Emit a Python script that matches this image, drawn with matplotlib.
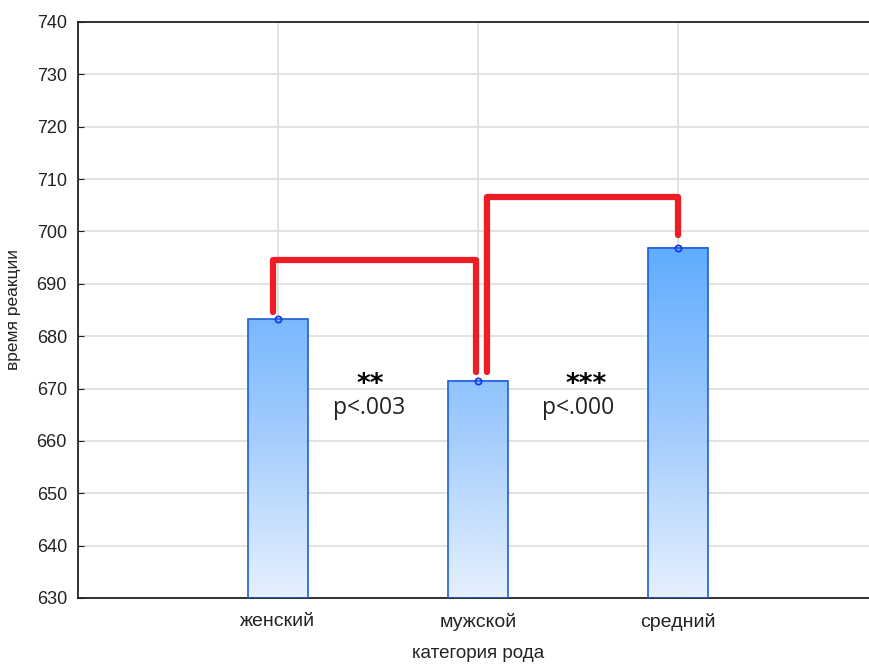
import numpy as np
import matplotlib.pyplot as plt
from matplotlib.colors import LinearSegmentedColormap

categories = ["женский", "мужской", "средний"]
means = [683.2, 671.5, 696.9]
stars = ["**", "***"]
pvals = ["p<.003", "p<.000"]

plt.rcParams['font.family'] = ['Liberation Sans', 'DejaVu Sans']

fig = plt.figure(figsize=(8.69, 6.64), dpi=100)
ax = fig.add_axes([78 / 869, 66 / 664, 800 / 869, 576 / 664])

ymin, ymax = 630, 740
x = np.arange(1, len(categories) + 1)
width = 0.3

cmap = LinearSegmentedColormap.from_list("bar", ["#e6f0fd", "#9cc9fd", "#5aa9ff"])
for xi, v in zip(x, means):
    grad = np.linspace(v, ymin, 200).reshape(-1, 1)
    ax.imshow(grad, extent=[xi - width / 2, xi + width / 2, ymin, v], aspect='auto',
              cmap=cmap, vmin=ymin, vmax=700, zorder=2, interpolation='bilinear')
    ax.bar(xi, v - ymin, bottom=ymin, width=width, facecolor='none',
           edgecolor='#1f5fd6', linewidth=1.2, zorder=3)
ax.plot(x, means, linestyle='none', marker='o', markersize=4.5, markerfacecolor='none',
        markeredgecolor='#1030ff', markeredgewidth=1.2, zorder=5)

# significance brackets
red = '#ee1c25'
ax.plot([0.975, 0.975, 1.99, 1.99], [684.6, 694.6, 694.6, 673.2], color=red, lw=4.5,
        solid_capstyle='round', solid_joinstyle='round', zorder=4)
ax.plot([2.045, 2.045, 3.0, 3.0], [673.2, 706.6, 706.6, 699.4], color=red, lw=4.5,
        solid_capstyle='round', solid_joinstyle='round', zorder=4)

for xs, xp, s, p in zip([1.46, 2.54], [1.455, 2.5], stars, pvals):
    ax.text(xs, 670.6, s, ha='center', va='center', fontsize=19, fontweight='bold',
            family='DejaVu Sans', zorder=6)
    ax.text(xp, 666.3, p, ha='center', va='center', fontsize=16.5, color='#222222',
            family='Open Sans', zorder=6)

ax.set_xlim(0, 4)
ax.set_ylim(ymin, ymax)
ax.set_yticks(np.arange(630, 741, 10))
ax.set_xticks(x)
ax.set_xticklabels(categories)
ax.tick_params(direction='in', length=4, labelsize=13, colors='#222222', pad=8)
ax.tick_params(axis='x', pad=11, labelsize=14)
ax.grid(True, color='#dddddd', linewidth=1.2, zorder=0)
ax.set_axisbelow(True)
for sp in ax.spines.values():
    sp.set_color('#222222')
    sp.set_linewidth(1.3)

ax.set_xlabel("категория рода", fontsize=13.5, color='#222222', labelpad=10)
ax.set_ylabel("время реакции", fontsize=12.5, color='#222222', labelpad=11)

fig.savefig("out.png", dpi=100)
